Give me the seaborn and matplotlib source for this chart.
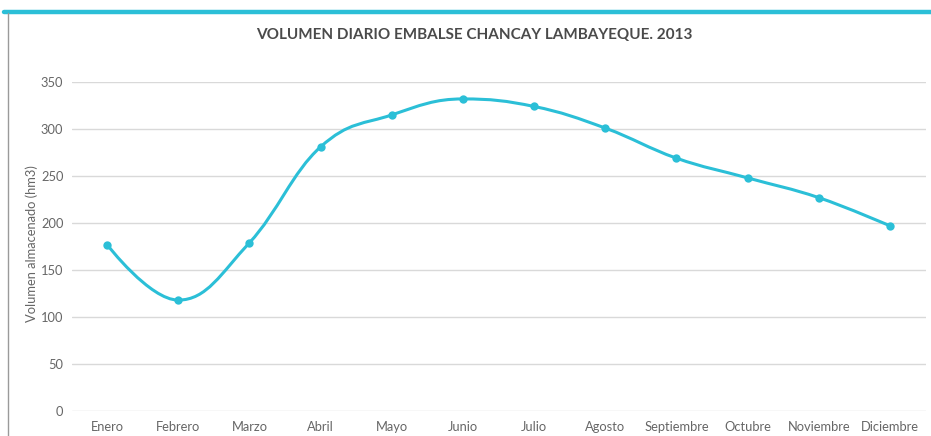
import matplotlib.pyplot as plt
import seaborn as sns
import pandas as pd
from matplotlib.path import Path
from matplotlib.patches import PathPatch
from matplotlib.lines import Line2D

meses = ["Enero", "Febrero", "Marzo", "Abril", "Mayo", "Junio", "Julio",
         "Agosto", "Septiembre", "Octubre", "Noviembre", "Diciembre"]
volumen = [177, 118, 179, 281, 315, 332, 324, 301, 269, 248, 227, 197]
y_ticks = [0, 50, 100, 150, 200, 250, 300, 350]

LINE = "#2bbfd7"
TEXT = "#666666"


def spline_path(xs, ys, smoothing=1.5):
    # smooth curve through the points, with overshoot clamped at extremes
    denom = smoothing + 1
    n = len(xs)
    left = [None] * n
    right = [None] * n
    for i in range(1, n - 1):
        px, py = xs[i], ys[i]
        lx, ly = xs[i - 1], ys[i - 1]
        nx, ny = xs[i + 1], ys[i + 1]
        lcx = (smoothing * px + lx) / denom
        lcy = (smoothing * py + ly) / denom
        rcx = (smoothing * px + nx) / denom
        rcy = (smoothing * py + ny) / denom
        corr = (rcy - lcy) * (rcx - px) / (rcx - lcx) + py - rcy
        lcy += corr
        rcy += corr
        if lcy > ly and lcy > py:
            lcy = max(ly, py)
            rcy = 2 * py - lcy
        elif lcy < ly and lcy < py:
            lcy = min(ly, py)
            rcy = 2 * py - lcy
        if rcy > ny and rcy > py:
            rcy = max(ny, py)
            lcy = 2 * py - rcy
        elif rcy < ny and rcy < py:
            rcy = min(ny, py)
            lcy = 2 * py - rcy
        left[i] = (lcx, lcy)
        right[i] = (rcx, rcy)
    verts = [(xs[0], ys[0])]
    codes = [Path.MOVETO]
    for i in range(1, n):
        c1 = right[i - 1] or (xs[i - 1], ys[i - 1])
        c2 = left[i] or (xs[i], ys[i])
        verts += [c1, c2, (xs[i], ys[i])]
        codes += [Path.CURVE4] * 3
    return Path(verts, codes)


df = pd.DataFrame({"mes": meses, "volumen": volumen})

sns.set_theme(style="white")
plt.rcParams["font.family"] = ["Lato", "DejaVu Sans"]

fig = plt.figure(figsize=(9.31, 4.36), dpi=100)
ax = fig.add_axes([0.0768, 0.0573, 0.9173, 0.7546])

ax.add_patch(PathPatch(spline_path(list(range(len(meses))), volumen),
                       facecolor="none", edgecolor=LINE, lw=2.2, zorder=3))
sns.scatterplot(data=df, x="mes", y="volumen", ax=ax, color=LINE,
                s=36, edgecolor=LINE, linewidth=0, zorder=4)

ax.set_xlim(-0.5, len(meses) - 0.5)
ax.set_ylim(0, 350)
ax.set_yticks(y_ticks)
ax.yaxis.grid(True, color="#d9d9d9", lw=1)
ax.xaxis.grid(False)
sns.despine(ax=ax, left=True, bottom=True)
ax.tick_params(axis="both", length=0, labelsize=9.3, colors=TEXT)
ax.tick_params(axis="y", pad=5.8)
ax.tick_params(axis="x", pad=7.5)
ax.set_xlabel("")
ax.set_ylabel("Volumen almacenado (hm3)", fontsize=9.3, color=TEXT, va="center")
ax.yaxis.set_label_coords(-0.046, 0.51)

fig.text(0.509, 0.919, "VOLUMEN DIARIO EMBALSE CHANCAY LAMBAYEQUE. 2013",
         ha="center", va="center", fontsize=11, fontweight="bold", color="#4a4a4a")

# frame decorations
fig.add_artist(Line2D([0.004, 1.0], [0.9736, 0.9736], color=LINE, lw=3.2,
                      transform=fig.transFigure))
fig.add_artist(Line2D([0.0086, 0.0086], [0.0, 0.97], color="#9a9a9a", lw=1,
                      transform=fig.transFigure))

plt.savefig("out.png", dpi=100)
plt.close()
